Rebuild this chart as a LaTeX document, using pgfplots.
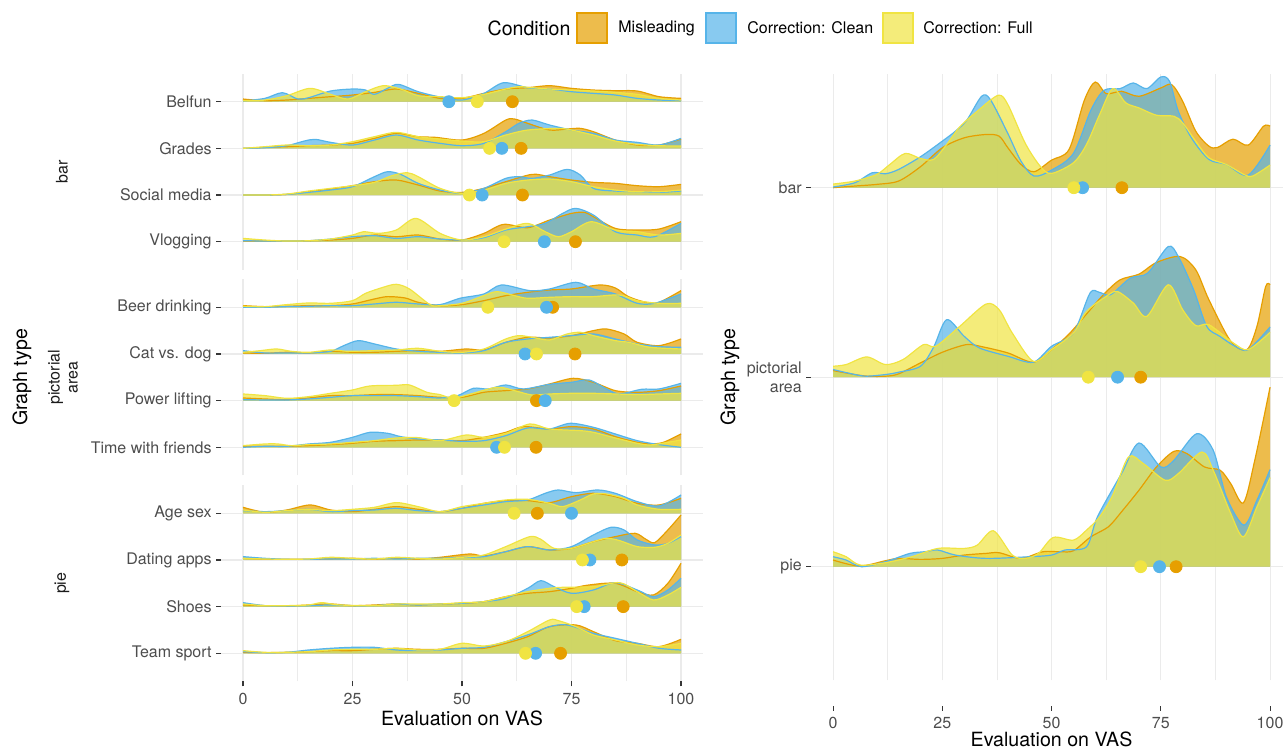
\documentclass[border=0pt]{standalone}
\usepackage{pgfplots}
\pgfplotsset{compat=1.18}
\usepackage{pgfplotstable}
\usepgfplotslibrary{fillbetween}
\usepackage{fontspec}
\setmainfont{TeX Gyre Heros}

\definecolor{cmis}{HTML}{E69F00}
\definecolor{ccln}{HTML}{56B4E9}
\definecolor{cful}{HTML}{F0E442}
\definecolor{tickgrey}{HTML}{4D4D4D}
\definecolor{gridgrey}{HTML}{EBEBEB}
\definecolor{stripgrey}{HTML}{1A1A1A}

% ridge heights, left panel: 140 units = one row; right panel: 570 units = one row
% ---- bar
\pgfplotstableread{
x h
0 8
5 3
10 5
15 10
20 15
25 20
30 28
35 38
40 25
45 10
50 10
55 25
60 38
65 42
70 48
75 40
80 35
85 33
90 32
95 15
100 10
}\BelM
\pgfplotstableread{
x h
0 2
5 10
9 27
12.5 8
15 12
20 32
25 38
28 35
30 22
33 40
35.5 52
40 30
45 14
50 5
55 25
59.5 57
65 42
70 38
75 30
80 25
85 20
90 10
95 5
100 3
}\BelC
\pgfplotstableread{
x h
0 3
5 5
10 18
15.3 40
20 22
24 8
28 30
32 48
36 38
40 18
45 15
50 12
55 22
60 38
63 45
66 42
70 38
75 35
80 32
85 28
90 22
95 10
100 5
}\BelF
\pgfplotstableread{
x h
0 0
5 3
10 5
15 8
20 10
25 15
30 30
35 45
40 35
44 33
50 25
55 45
60 85
62 88
65 75
70 55
74 58
77 60
80 50
85 25
90 10
95 10
100 28
}\GraM
\pgfplotstableread{
x h
0 0
5 2
10 8
14 22
16.5 27
20 18
25 10
30 25
35 40
40 25
45 15
50 8
55 15
60 50
63 75
66 85
70 70
75 55
80 45
85 25
90 18
95 10
100 30
}\GraC
\pgfplotstableread{
x h
0 0
5 5
10 10
15 8
20 10
25 20
30 35
35 48
40 35
45 28
50 22
55 20
60 40
65 55
72 60
75 55
80 40
85 22
90 12
95 8
100 7
}\GraF
\pgfplotstableread{
x h
0 0
5 0
10 2
15 10
20 18
25 28
30 40
35 45
40 30
45 12
50 8
55 20
60 40
66 62
70 55
75 45
80 38
85 35
90 28
95 25
100 32
}\SocM
\pgfplotstableread{
x h
0 0
5 0
10 2
15 8
20 15
25 25
30 55
33 70
36 62
40 35
45 15
50 5
55 20
60 50
63 55
66 50
70 60
74 77
77 60
80 20
85 12
90 10
95 8
100 12
}\SocC
\pgfplotstableread{
x h
0 0
5 0
10 3
15 12
20 20
25 28
30 38
34 58
37.5 67
40 55
45 20
50 5
55 15
60 35
65 45
70 48
75 40
80 25
85 15
90 10
95 10
100 15
}\SocF
\pgfplotstableread{
x h
0 2
5 2
10 2
15 3
20 5
25 10
30 20
35 15
40 20
45 8
50 5
55 25
59.5 52
65 42
70 65
75 85
78 88
80 75
85 40
90 35
95 38
100 60
}\VloM
\pgfplotstableread{
x h
0 3
5 2
10 2
15 3
20 8
25 15
30 18
35 10
40 15
45 8
50 5
55 12
60 35
65 45
69 55
73 85
76 100
80 80
85 30
90 20
94 15
100 55
}\VloC
\pgfplotstableread{
x h
0 10
5 5
10 2
15 3
20 8
25 20
27.5 30
31 25
35 35
39.5 70
45 25
50 5
55 15
60 38
65 55
69 30
72 15
75 30
79.5 60
85 35
90 30
95 20
100 25
}\VloF
% ---- pictorial area
\pgfplotstableread{
x h
0 5
5 2
10 3
15 5
20 5
25 10
30 25
33 32
37 28
40 15
45 5
50 8
55 20
60 35
65 45
70 52
75 55
81.5 67
85 58
88 32
92 15
95 15
100 50
}\BeeM
\pgfplotstableread{
x h
0 0
5 0
10 2
15 3
20 5
25 5
30 10
35 15
40 10
45 8
49.5 27
55 40
59 67
65.5 50
70 55
76 75
80 55
85 40
90 12
94 12
100 40
}\BeeC
\pgfplotstableread{
x h
0 3
5 2
10 8
15 13
20 12
25 20
28 42
32 60
35 69
38 55
42.7 8
45 5
50 12
55 35
58 47
62 35
65 27
70 30
75 32
80 32
86 37
90 20
95 12
100 12
}\BeeF
\pgfplotstableread{
x h
0 3
5 2
10 5
15 3
20 8
25 5
30 5
35 8
40 10
45 8
51 15
55 12
60 35
65 50
70 48
75 55
80 70
83 75
87 60
90 35
95 25
100 45
}\CatM
\pgfplotstableread{
x h
0 10
5 3
10 3
15 3
20 8
23 25
26.3 40
30 30
35 15
40 8
45 5
50 3
55 10
60 35
65 45
70 50
75 55
80 60
85 45
90 30
95 22
100 20
}\CatC
\pgfplotstableread{
x h
0 5
4 10
7.7 15
11 8
15 5
20 12
24 8
30 10
35 12
40 17
45 8
50 5
55 15
60 45
63 55
66 50
70 42
74 60
77 65
80 55
85 40
88 35
93 20
100 15
}\CatF
\pgfplotstableread{
x h
0 8
5 5
10 3
15 8
20 15
25 15
30 18
35 18
40 15
45 10
50 10
55 25
60 30
65 35
70 50
75.4 67
80 55
85 30
90 25
95 30
100 44
}\PowM
\pgfplotstableread{
x h
0 3
5 2
10 2
15 5
20 10
25 15
30 15
35 15
40 12
45 8
49 15
52.6 37
56 35
60 47
64 35
70 49
75 55
79 62
83 35
86 20
91 34
95 35
100 52
}\PowC
\pgfplotstableread{
x h
0 20
5 15
10 7
15 12
20 22
25 32
29 44
35 46
38 47
42 25
45 18
48 7
52 20
58 40
62 30
66 17
70 20
75 22
80 22
85 20
90 18
95 20
100 22
}\PowF
\pgfplotstableread{
x h
0 3
5 3
10 3
15 5
20 8
25 12
30 18
35 20
40 22
45 22
50 20
55 30
60 45
64 62
70 55
75 62
80 55
85 32
90 15
93 10
96 15
100 40
}\TimM
\pgfplotstableread{
x h
0 0
5 3
10 3
15 10
20 15
25 30
29 45
33 42
36 32
40 25
45 22
50 18
55 20
60 35
65 58
70 55
74.7 72
80 60
85 40
90 20
95 8
100 0
}\TimC
\pgfplotstableread{
x h
0 5
5 10
8 10
11 5
15 8
20 10
25 15
30 20
35 28
40 29
45 20
51 37
55 30
60 42
65.5 70
70 55
77 50
80 45
85 28
90 12
93 7
97 15
100 22
}\TimF
% ---- pie
\pgfplotstableread{
x h
0 18
5 3
10 10
15.3 25
20 10
25 5
30 12
35 20
40 12
45 5
50 15
55 30
60 38
65 38
70 32
75 50
80 60
85 50
90 30
95 25
100 45
}\AgeM
\pgfplotstableread{
x h
0 8
5 5
10 8
15 12
20 5
25 8
30 10
35 15
40 8
45 5
50 15
55 25
60 35
65 40
69 60
72 70
76 62
81 70
85 60
90 35
95 22
100 55
}\AgeC
\pgfplotstableread{
x h
0 10
5 3
10 8
15 12
20 8
25 12
30 18
35 32
40 20
45 5
50 20
55 30
60 40
65 42
70 30
73 20
77 40
80 58
83 58
87 45
90 25
95 12
100 12
}\AgeF
\pgfplotstableread{
x h
0 5
5 3
10 2
15 2
20 3
25 5
30 3
35 5
40 3
45 8
51.8 18
55 12
60 25
65 40
70 30
75 35
80 55
85 70
89.5 80
92 62
94 52
97 90
100 135
}\DatM
\pgfplotstableread{
x h
0 10
5 5
10 2
15 2
20 3
25 3
30 5
35 3
40 5
45 5
50 8
55 10
60 25
65 40
70 30
75 40
80 75
84 98
87 90
90 60
94 45
97 50
100 70
}\DatC
\pgfplotstableread{
x h
0 5
5 3
10 2
15 3
20 8
25 5
30 3
35 8
40 5
45 3
50 8
55 15
60 40
65.5 70
68 62
71 35
75 35
80 55
83 65
86 58
90 40
94 38
97 50
100 75
}\DatF
\pgfplotstableread{
x h
0 5
5 3
10 2
15 5
20 8
25 3
30 5
35 8
40 5
45 8
50 10
55 15
60 30
65 40
70 45
75 55
79 65
85 70
90 45
93.7 35
97 70
100 130
}\ShoM
\pgfplotstableread{
x h
0 12
5 3
10 2
15 3
20 5
25 3
30 3
35 8
40 5
45 8
50 10
55 15
60 25
65 55
68 78
71 60
75 40
80 50
85 72
90 50
93.7 30
97 50
100 85
}\ShoC
\pgfplotstableread{
x h
0 8
5 3
10 3
15 5
18 12
22 5
30 3
35 8
40 8
45 8
50 12
55 15
60 30
65 45
70 55
73 58
80 60
86 72
90 45
93.7 20
97 35
100 58
}\ShoF
\pgfplotstableread{
x h
0 3
5 2
10 3
15 5
20 8
25 8
30 12
35 15
40 12
45 12
50 15
55 15
60 30
65 50
70 80
76 85
80 65
85 38
90 30
95 20
100 42
}\TeaM
\pgfplotstableread{
x h
0 5
5 2
10 3
15 10
20 15
25 18
30 18
35 10
40 8
45 10
50 15
55 18
60 35
65 55
70 80
74 85
80 60
85 45
90 30
95 15
100 10
}\TeaC
\pgfplotstableread{
x h
0 8
5 3
10 3
15 5
20 10
25 12
30 12
35 15
40 10
45 12
50 30
55 22
60 35
65 65
70 100
72 98
76 80
80 55
85 40
90 25
95 20
100 30
}\TeaF
% ---- right panel
\pgfplotstableread{
x h
0 0
5 5
10 10
15 20
20 63
25 120
30 150
35 160
38 155
40 120
43 70
46 48
50 83
54 115
57.5 263
60 318
62.5 283
66 290
70 275
75 300
77.5 310
80 260
83 170
86 125
88 121
91.5 146
95 128
98.5 185
100 185
}\RbarM
\pgfplotstableread{
x h
0 2
5 15
9 45
12 42
15 55
20 93
25 140
28 170
30.6 203
34 275
36 265
40 163
43 80
46 35
50 53
55 103
59 233
62 293
65.7 298
68.7 315
71.8 298
75 333
77 320
79 230
82 150
86 85
90 70
95 38
100 128
}\RbarC
\pgfplotstableread{
x h
0 11
5 20
10 40
13 70
16.5 103
20 88
23 85
26 130
29 183
33 230
37.8 278
40 250
44 133
47.5 63
50 43
55 75
58 130
61 220
64 298
67 255
70 240
74 218
78 215
80 195
83 140
86 90
90 70
94 40
96 35
100 68
}\RbarF
\pgfplotstableread{
x h
0 20
5 8
8 3
12 3
15 10
20 43
25 75
30.5 98
34 92
40 73
45.8 45
50 83
54 130
58 190
62 250
65.7 293
70 310
74 345
79.4 363
83 323
86 233
91 108
94.7 83
97 153
99 273
100 278
}\RpicM
\pgfplotstableread{
x h
0 23
5 8
7.7 3
12 8
15 15
20 33
23 90
26 173
30 123
33.5 88
40 63
45.8 45
50 93
55 133
58.8 253
61 255
63.5 248
68 298
72 313
76.7 393
79 363
82.5 263
85.5 153
88.5 123
92 93
95 83
100 151
}\RpicC
\pgfplotstableread{
x h
0 33
3 38
7.7 61
12 38
16 53
20.7 98
23.5 93
29 153
35 220
38 203
41 133
45.8 48
50 83
55 133
58 198
62.5 243
65 258
68.7 223
71.8 183
76.7 278
80 203
83 155
86 158
91.6 103
95 83
100 135
}\RpicF
\pgfplotstableread{
x h
0 20
6 2
12 18
15 25
20 22
25 25
30 35
35 40
38 42
43 25
48 45
52 45
55 48
59 90
63 120
66 165
70 230
74 300
78 347
81 340
85 300
88.6 290
91 250
93.9 192
96.5 320
100 540
}\RpieM
\pgfplotstableread{
x h
0 30
3 20
6.5 0
12 15
17.6 40
21 45
24 50
28 35
35 25
45 30
50 35
53 50
58 60
60.5 150
66 280
70 372
75 300
78 320
83.2 400
87 350
90 210
94 125
97 200
100 292
}\RpieC
\pgfplotstableread{
x h
0 45
3 30
6.2 5
12 12
18 30
24 55
30 55
33 65
36.7 108
41 35
44 25
47 40
50.4 88
55 80
58 110
61 150
64 215
67.6 330
71 310
76 260
79 280
84.4 345
87 290
91 160
93.9 90
97 180
100 268
}\RpieF

% #1 table, #2 row, #3 height units per row, #4 colour
\newcommand\ridge[4]{%
  \addplot[draw=none, smooth, name path=c#2#4] table[x=x, y expr=\thisrow{h}/#3+#2] {#1};
  \addplot[draw=none, name path=b#2#4] coordinates {(0,#2) (100,#2)};
  \addplot[draw=none, fill=#4, fill opacity=0.7] fill between[of=c#2#4 and b#2#4];
  \addplot[#4, line width=0.6pt, smooth] table[x=x, y expr=\thisrow{h}/#3+#2] {#1};
}
\newcommand\means[2]{%
  \addplot[#1, only marks, mark=*, mark size=3pt] coordinates {#2};
}

\pgfplotsset{
  ridgeaxis/.style={
    scale only axis, width=240.9pt, height=98pt,
    xmin=-5, xmax=105, ymin=0.4, ymax=4.6,
    axis line style={draw=none},
    xtick={0,25,50,75,100}, minor x tick num=1,
    ytick={1,2,3,4},
    xmajorgrids, xminorgrids, ymajorgrids,
    major grid style={gridgrey, line width=0.55pt},
    minor grid style={gridgrey, line width=0.3pt},
    tick align=outside, major tick length=2.5pt, minor tick length=0pt,
    tick style={tickgrey!70!black, line width=0.55pt},
    tick pos=left,
    ticklabel style={font=\fontsize{8}{9.6}\selectfont, text=tickgrey},
    yticklabel style={xshift=1.3pt},
    /pgf/number format/assume math mode=true,
  },
}

\begin{document}
\begin{tikzpicture}

% legend
\node[anchor=center, font=\fontsize{9.8}{11}\selectfont] at (264.5pt,-14pt) {Condition};
\draw[cmis, line width=0.6pt, fill=cmis, fill opacity=0.7] (288.5pt,-6.5pt) rectangle (303.5pt,-21.5pt);
\draw[ccln, line width=0.6pt, fill=ccln, fill opacity=0.7] (353pt,-6.5pt) rectangle (368pt,-21.5pt);
\draw[cful, line width=0.6pt, fill=cful, fill opacity=0.7] (441.5pt,-6.5pt) rectangle (456.5pt,-21.5pt);
\node[anchor=west, inner sep=0pt, font=\fontsize{8}{9.6}\selectfont] at (309pt,-14pt) {Misleading};
\node[anchor=west, inner sep=0pt, font=\fontsize{8}{9.6}\selectfont] at (373.5pt,-14pt) {Correction: Clean};
\node[anchor=west, inner sep=0pt, font=\fontsize{8}{9.6}\selectfont] at (461.5pt,-14pt) {Correction: Full};

% left titles and strips
\node[rotate=90, font=\fontsize{9.8}{11}\selectfont] at (11pt,-188.75pt) {Graph type};
\node[rotate=90, text=stripgrey, font=\fontsize{8}{9.6}\selectfont] at (31pt,-85.85pt) {bar};
\node[rotate=90, align=center, text=stripgrey, font=\fontsize{8}{9}\selectfont] at (31.5pt,-188.65pt) {pictorial\\area};
\node[rotate=90, text=stripgrey, font=\fontsize{8}{9.6}\selectfont] at (31pt,-291.65pt) {pie};
\node[font=\fontsize{9.8}{11}\selectfont] at (231pt,-359pt) {Evaluation on VAS};

% right titles
\node[rotate=90, font=\fontsize{9.8}{11}\selectfont] at (365pt,-188.5pt) {Graph type};
\node[font=\fontsize{9.8}{11}\selectfont] at (525.75pt,-369.5pt) {Evaluation on VAS};

% ---- left facet: bar
\begin{axis}[ridgeaxis, at={(110.55pt,-36.85pt)}, anchor=north west,
  xticklabels={}, xtick style={draw=none},
  yticklabels={Vlogging,Social media,Grades,Belfun}]
\ridge{\BelM}{4}{140}{cmis}
\ridge{\BelC}{4}{140}{ccln}
\ridge{\BelF}{4}{140}{cful}
\ridge{\GraM}{3}{140}{cmis}
\ridge{\GraC}{3}{140}{ccln}
\ridge{\GraF}{3}{140}{cful}
\ridge{\SocM}{2}{140}{cmis}
\ridge{\SocC}{2}{140}{ccln}
\ridge{\SocF}{2}{140}{cful}
\ridge{\VloM}{1}{140}{cmis}
\ridge{\VloC}{1}{140}{ccln}
\ridge{\VloF}{1}{140}{cful}
\means{cmis}{(61.5,4) (63.5,3) (63.8,2) (75.9,1)}
\means{ccln}{(47.0,4) (59.1,3) (54.6,2) (68.8,1)}
\means{cful}{(53.5,4) (56.3,3) (51.7,2) (59.6,1)}
\end{axis}

% ---- left facet: pictorial area
\begin{axis}[ridgeaxis, at={(110.55pt,-139.65pt)}, anchor=north west,
  xticklabels={}, xtick style={draw=none},
  yticklabels={Time with friends,Power lifting,Cat vs. dog,Beer drinking}]
\ridge{\BeeM}{4}{140}{cmis}
\ridge{\BeeC}{4}{140}{ccln}
\ridge{\BeeF}{4}{140}{cful}
\ridge{\CatM}{3}{140}{cmis}
\ridge{\CatC}{3}{140}{ccln}
\ridge{\CatF}{3}{140}{cful}
\ridge{\PowM}{2}{140}{cmis}
\ridge{\PowC}{2}{140}{ccln}
\ridge{\PowF}{2}{140}{cful}
\ridge{\TimM}{1}{140}{cmis}
\ridge{\TimC}{1}{140}{ccln}
\ridge{\TimF}{1}{140}{cful}
\means{cmis}{(70.7,4) (75.8,3) (67.0,2) (66.9,1)}
\means{ccln}{(69.3,4) (64.4,3) (69.0,2) (57.9,1)}
\means{cful}{(55.9,4) (67.0,3) (48.2,2) (59.7,1)}
\end{axis}

% ---- left facet: pie
\begin{axis}[ridgeaxis, at={(110.55pt,-242.65pt)}, anchor=north west,
  yticklabels={Team sport,Shoes,Dating apps,Age sex}]
\ridge{\AgeM}{4}{140}{cmis}
\ridge{\AgeC}{4}{140}{ccln}
\ridge{\AgeF}{4}{140}{cful}
\ridge{\DatM}{3}{140}{cmis}
\ridge{\DatC}{3}{140}{ccln}
\ridge{\DatF}{3}{140}{cful}
\ridge{\ShoM}{2}{140}{cmis}
\ridge{\ShoC}{2}{140}{ccln}
\ridge{\ShoF}{2}{140}{cful}
\ridge{\TeaM}{1}{140}{cmis}
\ridge{\TeaC}{1}{140}{ccln}
\ridge{\TeaF}{1}{140}{cful}
\means{cmis}{(67.2,4) (86.5,3) (86.8,2) (72.5,1)}
\means{ccln}{(75.0,4) (79.2,3) (77.9,2) (66.8,1)}
\means{cful}{(61.9,4) (77.5,3) (76.2,2) (64.5,1)}
\end{axis}

% ---- right panel
\begin{axis}[ridgeaxis, at={(405.6pt,-37pt)}, anchor=north west,
  width=240.35pt, height=303.2pt, ymin=0.4, ymax=3.6, ytick={1,2,3},
  xticklabels={}, xtick style={draw=none},
  yticklabels={pie,{pictorial\\area},bar}, yticklabel style={align=right}]
\ridge{\RbarM}{3}{570}{cmis}
\ridge{\RbarC}{3}{570}{ccln}
\ridge{\RbarF}{3}{570}{cful}
\ridge{\RpicM}{2}{570}{cmis}
\ridge{\RpicC}{2}{570}{ccln}
\ridge{\RpicF}{2}{570}{cful}
\ridge{\RpieM}{1}{570}{cmis}
\ridge{\RpieC}{1}{570}{ccln}
\ridge{\RpieF}{1}{570}{cful}
\means{cmis}{(66.1,3) (70.4,2) (78.5,1)}
\means{ccln}{(57.1,3) (65.1,2) (74.7,1)}
\means{cful}{(55.1,3) (58.4,2) (70.4,1)}
\end{axis}

% ---- right panel x ticks
\begin{axis}[scale only axis, width=240.35pt, height=2pt,
  at={(405.6pt,-352.75pt)}, anchor=south west,
  xmin=-5, xmax=105, ymin=0, ymax=1, hide y axis,
  axis line style={draw=none},
  xtick={0,25,50,75,100},
  tick align=outside, major tick length=2.5pt,
  tick style={tickgrey!70!black, line width=0.55pt},
  tick pos=left,
  ticklabel style={font=\fontsize{8}{9.6}\selectfont, text=tickgrey},
  /pgf/number format/assume math mode=true]
\end{axis}

\pgfresetboundingbox
\path[use as bounding box] (0,0) rectangle (641.5pt,-374pt);
\end{tikzpicture}
\end{document}
